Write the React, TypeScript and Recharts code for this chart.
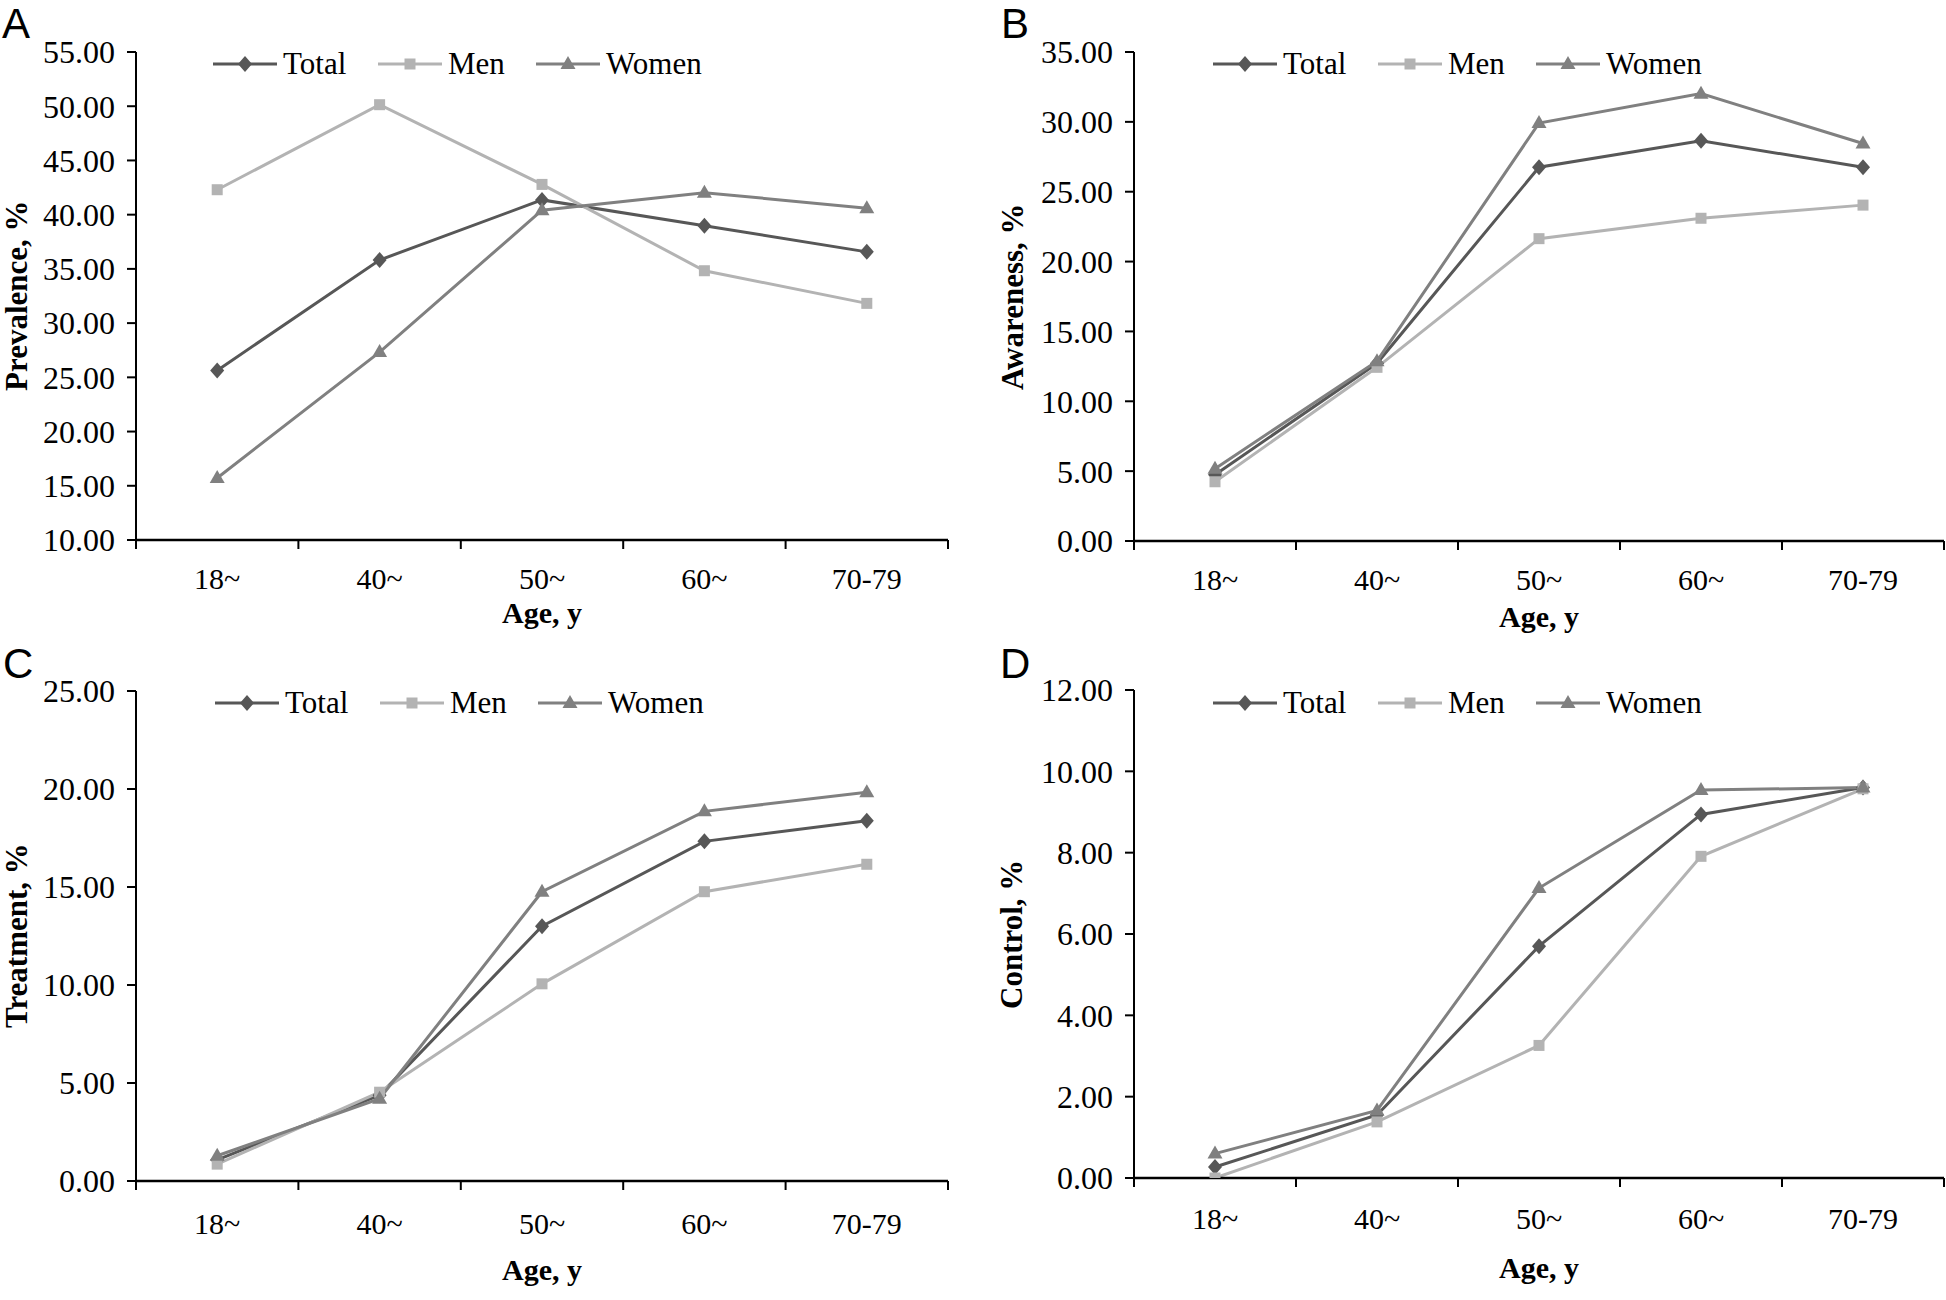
import React from 'react'
import { LineChart, Line, XAxis, YAxis, Legend } from 'recharts'

const ageGroups = ['18~', '40~', '50~', '60~', '70-79']

const prevalenceTotal = [25.64, 35.82, 41.36, 38.98, 36.57]
const prevalenceMen = [42.3, 50.14, 42.79, 34.83, 31.82]
const prevalenceWomen = [15.72, 27.33, 40.41, 42.03, 40.6]

const awarenessTotal = [4.74, 12.72, 26.75, 28.65, 26.75]
const awarenessMen = [4.24, 12.43, 21.64, 23.1, 24.04]
const awarenessWomen = [5.18, 12.87, 29.91, 32.02, 28.45]

const treatmentTotal = [1.08, 4.38, 13.0, 17.33, 18.38]
const treatmentMen = [0.86, 4.53, 10.06, 14.76, 16.16]
const treatmentWomen = [1.29, 4.2, 14.76, 18.86, 19.83]

const controlTotal = [0.27, 1.55, 5.7, 8.94, 9.6]
const controlMen = [0.0, 1.38, 3.26, 7.91, 9.57]
const controlWomen = [0.6, 1.66, 7.13, 9.54, 9.6]

const prevalenceTicks = [10, 15, 20, 25, 30, 35, 40, 45, 50, 55]
const awarenessTicks = [0, 5, 10, 15, 20, 25, 30, 35]
const treatmentTicks = [0, 5, 10, 15, 20, 25]
const controlTicks = [0, 2, 4, 6, 8, 10, 12]

const SERIF = "'Liberation Serif', 'Times New Roman', serif"
const SANS = "'Liberation Sans', Arial, sans-serif"

const series = [
  { key: 'Total', color: '#575757', shape: 'diamond' },
  { key: 'Men', color: '#b3b3b3', shape: 'square' },
  { key: 'Women', color: '#808080', shape: 'triangle' },
]
const legendOffsets = [0, 165, 323]

function Marker({ shape, cx, cy, color }: { shape: string; cx: number; cy: number; color: string }) {
  if (cx == null || cy == null) return <g />
  if (shape === 'diamond') {
    return <polygon points={`${cx},${cy - 8} ${cx + 7},${cy} ${cx},${cy + 8} ${cx - 7},${cy}`} fill={color} />
  }
  if (shape === 'square') {
    return <rect x={cx - 5.5} y={cy - 5.5} width={11} height={11} fill={color} />
  }
  return <polygon points={`${cx},${cy - 8} ${cx + 7.5},${cy + 5} ${cx - 7.5},${cy + 5}`} fill={color} />
}

function LegendRow() {
  return (
    <div style={{ position: 'relative', width: 500, height: 36 }}>
      {series.map((s, i) => (
        <div
          key={s.key}
          style={{ position: 'absolute', left: legendOffsets[i], top: 0, height: 36, display: 'flex', alignItems: 'center' }}
        >
          <svg width={64} height={20} style={{ display: 'block' }}>
            <line x1={0} y1={10} x2={64} y2={10} stroke={s.color} strokeWidth={3} />
            <Marker shape={s.shape} cx={32} cy={10} color={s.color} />
          </svg>
          <span style={{ fontFamily: SERIF, fontSize: 31, color: '#000', marginLeft: 6, lineHeight: '36px' }}>{s.key}</span>
        </div>
      ))}
    </div>
  )
}

interface PanelProps {
  letter: string
  yTitle: string
  total: number[]
  men: number[]
  women: number[]
  ticks: number[]
  left: number
  top: number
  height: number
  x0: number
  x1: number
  y0: number
  y1: number
  xTickDy: number
  xTitleDy: number
  yTitleX: number
  letterX: number
  legendX: number
  legendY: number
}

function Panel(p: PanelProps) {
  const width = 973
  const band = (p.x1 - p.x0) / ageGroups.length
  const data = ageGroups.map((g, i) => ({
    x: i + 0.5,
    label: g,
    Total: p.total[i],
    Men: p.men[i],
    Women: p.women[i],
  }))
  const plotTop = p.y0 - p.top
  const plotBottom = p.y1 - p.top
  const yAxisWidth = p.x0 - p.left
  const rightMargin = p.left + width - p.x1
  const xAxisHeight = p.height - plotBottom
  const plotMidY = (plotTop + plotBottom) / 2
  const plotMidX = (p.x0 + p.x1) / 2 - p.left

  const renderTick = (t: any) => {
    const idx = Math.round(t.payload.value)
    if (idx >= ageGroups.length) return <g />
    return (
      <text x={t.x + band / 2} y={t.y + p.xTickDy} textAnchor="middle" fontSize={30} fontFamily={SERIF} fill="#000">
        {ageGroups[idx]}
      </text>
    )
  }

  return (
    <div style={{ position: 'absolute', left: p.left, top: p.top, width, height: p.height }}>
      <LineChart
        width={width}
        height={p.height}
        data={data}
        margin={{ top: plotTop, right: rightMargin, left: 0, bottom: 0 }}
      >
        <XAxis
          type="number"
          dataKey="x"
          domain={[0, 5]}
          ticks={[0, 1, 2, 3, 4, 5]}
          interval={0}
          height={xAxisHeight}
          tickSize={9}
          tickMargin={0}
          axisLine={{ stroke: '#000', strokeWidth: 2.5 }}
          tickLine={{ stroke: '#000', strokeWidth: 2 }}
          tick={renderTick}
        />
        <YAxis
          type="number"
          domain={[p.ticks[0], p.ticks[p.ticks.length - 1]]}
          ticks={p.ticks}
          interval={0}
          width={yAxisWidth}
          allowDataOverflow
          tickSize={9}
          tickMargin={12}
          tickFormatter={(v: number) => v.toFixed(2)}
          axisLine={{ stroke: '#000', strokeWidth: 2 }}
          tickLine={{ stroke: '#000', strokeWidth: 2 }}
          tick={{ fontSize: 32, fontFamily: SERIF, fill: '#000' }}
        />
        <Legend
          layout="horizontal"
          verticalAlign="middle"
          align="center"
          wrapperStyle={{ left: p.legendX, top: p.legendY - 18, width: 500, height: 36 }}
          content={() => <LegendRow />}
        />
        {series.map((s) => (
          <Line
            key={s.key}
            type="linear"
            dataKey={s.key}
            stroke={s.color}
            strokeWidth={3}
            isAnimationActive={false}
            activeDot={false}
            dot={(d: any) => (
              <Marker key={`${s.key}-${d.index}`} shape={s.shape} cx={d.cx} cy={d.cy} color={s.color} />
            )}
          />
        ))}
      </LineChart>
      <div
        style={{
          position: 'absolute',
          left: plotMidX - 100,
          top: plotBottom + p.xTitleDy - 20,
          width: 200,
          height: 40,
          lineHeight: '40px',
          textAlign: 'center',
          fontFamily: SERIF,
          fontWeight: 'bold',
          fontSize: 30,
          color: '#000',
        }}
      >
        Age, y
      </div>
      <div
        style={{
          position: 'absolute',
          left: p.yTitleX - 16,
          top: plotMidY - 150,
          width: 32,
          height: 300,
          lineHeight: '32px',
          textAlign: 'center',
          fontFamily: SERIF,
          fontWeight: 'bold',
          fontSize: 31,
          color: '#000',
          writingMode: 'vertical-rl',
          transform: 'rotate(180deg)',
          whiteSpace: 'nowrap',
        }}
      >
        {p.yTitle}
      </div>
      <div
        style={{
          position: 'absolute',
          left: p.letterX,
          top: 0,
          fontFamily: SANS,
          fontSize: 42,
          lineHeight: 'normal',
          color: '#000',
        }}
      >
        {p.letter}
      </div>
    </div>
  )
}

export default function App() {
  return (
    <div
      style={{
        position: 'absolute',
        left: 0,
        top: 0,
        width: 1946,
        height: 1300,
        background: '#fff',
        overflow: 'hidden',
      }}
    >
      <Panel
        letter="A"
        yTitle="Prevalence, %"
        total={prevalenceTotal}
        men={prevalenceMen}
        women={prevalenceWomen}
        ticks={prevalenceTicks}
        left={0}
        top={0}
        height={640}
        x0={136}
        x1={948}
        y0={52}
        y1={540}
        xTickDy={40}
        xTitleDy={73}
        yTitleX={17}
        letterX={2}
        legendX={213}
        legendY={64}
      />
      <Panel
        letter="B"
        yTitle="Awareness, %"
        total={awarenessTotal}
        men={awarenessMen}
        women={awarenessWomen}
        ticks={awarenessTicks}
        left={973}
        top={0}
        height={640}
        x0={1134}
        x1={1944}
        y0={52}
        y1={541}
        xTickDy={40}
        xTitleDy={76}
        yTitleX={40}
        letterX={28}
        legendX={240}
        legendY={64}
      />
      <Panel
        letter="C"
        yTitle="Treatment, %"
        total={treatmentTotal}
        men={treatmentMen}
        women={treatmentWomen}
        ticks={treatmentTicks}
        left={0}
        top={640}
        height={660}
        x0={136}
        x1={948}
        y0={691}
        y1={1181}
        xTickDy={44}
        xTitleDy={89}
        yTitleX={17}
        letterX={3}
        legendX={215}
        legendY={63}
      />
      <Panel
        letter="D"
        yTitle="Control, %"
        total={controlTotal}
        men={controlMen}
        women={controlWomen}
        ticks={controlTicks}
        left={973}
        top={640}
        height={660}
        x0={1134}
        x1={1944}
        y0={690}
        y1={1178}
        xTickDy={42}
        xTitleDy={90}
        yTitleX={39}
        letterX={27}
        legendX={240}
        legendY={63}
      />
    </div>
  )
}
